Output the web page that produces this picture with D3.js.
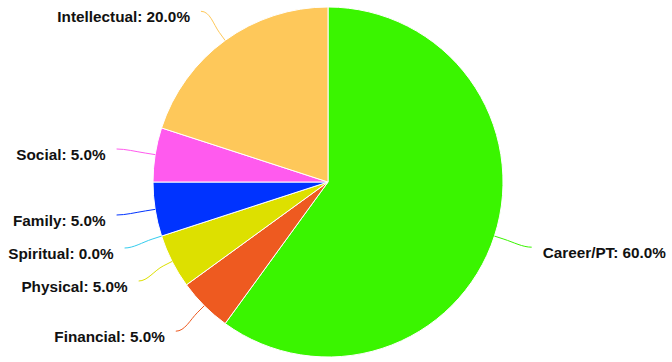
<!DOCTYPE html>
<html lang="en">
<head>
  <meta charset="UTF-8">
  <title>Pie</title>
  <script src="https://cdn.jsdelivr.net/npm/d3@7"></script>
  <style>
    body { margin: 0; background: #fff; }
    text { font-family: "Liberation Sans", Arial, sans-serif; font-weight: bold; font-size: 15.3px; fill: #111; }
  </style>
</head>
<body>
<svg width="672" height="362"></svg>
<script>
  // data
  var categories = ["Career/PT", "Financial", "Physical", "Spiritual", "Family", "Social", "Intellectual"];
  var values = [60, 5, 5, 0, 5, 5, 20];
  var colors = ["#3af500", "#ee5a20", "#dde000", "#33ccee", "#0033ff", "#ff5aee", "#fec85a"];

  var data = categories.map(function(c, i) {
    return { name: c, value: values[i], color: colors[i] };
  });

  var width = 672, height = 362;
  var cx = 328, cy = 182, r = 175;
  var labelR = r + 36;

  var svg = d3.select("svg");
  var g = svg.append("g").attr("transform", "translate(" + cx + "," + cy + ")");

  var pie = d3.pie().sort(null).value(function(d) { return d.value; });
  var arc = d3.arc().innerRadius(0).outerRadius(r);
  var arcs = pie(data);

  // slices
  g.selectAll(".slice")
    .data(arcs)
    .enter().append("path")
    .attr("class", "slice")
    .attr("d", arc)
    .attr("fill", function(d) { return d.data.color; })
    .attr("stroke", function(d) { return d.endAngle > d.startAngle ? "#fff" : "none"; })
    .attr("stroke-width", 1);

  // polar helper (angle from top, clockwise)
  function pt(a, rad) {
    return [Math.sin(a) * rad, -Math.cos(a) * rad];
  }

  // label anchors with a simple push-apart on each side
  var labels = arcs.map(function(d) {
    var a = (d.startAngle + d.endAngle) / 2;
    var p = pt(a, labelR);
    return { d: d, a: a, x: p[0], y: p[1], left: p[0] < 0 };
  });
  [true, false].forEach(function(side) {
    var group = labels.filter(function(l) { return l.left === side; })
      .sort(function(a, b) { return a.y - b.y; });
    for (var i = 1; i < group.length; i++) {
      if (group[i].y - group[i - 1].y < 33) group[i].y = group[i - 1].y + 33;
    }
    group.forEach(function(l) {
      var yy = Math.max(-labelR, Math.min(labelR, l.y));
      var xx = Math.sqrt(labelR * labelR - yy * yy);
      l.x = side ? -xx : xx;
    });
  });

  // soft connectors
  g.selectAll(".conn")
    .data(labels)
    .enter().append("path")
    .attr("class", "conn")
    .attr("fill", "none")
    .attr("stroke", function(l) { return l.d.data.color; })
    .attr("stroke-width", 1)
    .attr("d", function(l) {
      var s = l.left ? 1 : -1;
      var edge = pt(l.a, r);
      var mid = pt(l.a, r + 10);
      var c2 = [2 * mid[0] - edge[0], 2 * mid[1] - edge[1]];
      var p = d3.path();
      p.moveTo(l.x - s * 3, l.y);
      p.bezierCurveTo(l.x + s * 6, l.y, c2[0], c2[1], mid[0], mid[1]);
      p.lineTo(edge[0], edge[1]);
      return p.toString();
    });

  // labels
  g.selectAll(".lbl")
    .data(labels)
    .enter().append("text")
    .attr("class", "lbl")
    .attr("x", function(l) { return l.left ? l.x - 14 : l.x + 14; })
    .attr("y", function(l) { return l.y + 11; })
    .attr("text-anchor", function(l) { return l.left ? "end" : "start"; })
    .text(function(l) { return l.d.data.name + ": " + l.d.data.value.toFixed(1) + "%"; });
</script>
</body>
</html>
